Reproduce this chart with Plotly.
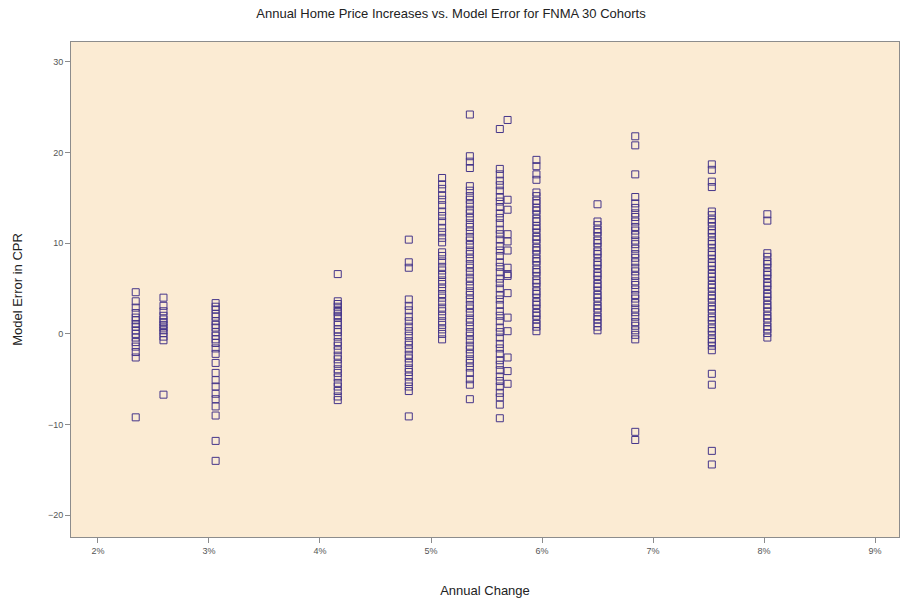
import plotly.graph_objects as go

# Annual change (%) for each cohort column
col_x = [2.34, 2.59, 3.06, 4.16, 4.80, 5.10, 5.35, 5.62, 5.69, 5.95, 6.50, 6.84, 7.53, 8.03]

# Model error (CPR) observed in each column
col_y = [
    [4.6, 3.6, 2.9, 2.3, 1.8, 1.5, 1.1, 0.8, 0.4, 0.0, -0.4, -0.9, -1.4, -2.0, -2.6, -9.2],
    [4.0, 3.1, 2.5, 2.0, 1.6, 1.3, 1.0, 0.7, 0.4, 0.1, -0.3, -0.7, -6.7],
    [3.4, 3.0, 2.7, 2.2, 1.9, 1.4, 1.0, 0.7, 0.2, -0.2, -0.6, -1.0, -1.6, -2.2, -3.2, -4.3,
     -5.1, -5.8, -6.6, -7.2, -8.0, -9.0, -11.8, -14.0],
    [6.6, 3.6, 3.3, 3.0, 2.6, 2.4, 2.0, 1.8, 1.3, 1.0, 0.5, 0.2, -0.3, -0.9, -1.3, -1.8,
     -2.4, -2.8, -3.3, -3.9, -4.3, -4.8, -5.4, -5.8, -6.3, -6.9, -7.3],
    [10.4, 7.9, 7.3, 3.8, 3.1, 2.6, 1.9, 1.4, 0.8, 0.3, -0.2, -0.8, -1.2, -1.7, -2.3, -2.7,
     -3.2, -3.8, -4.2, -4.7, -5.3, -5.8, -6.3, -9.1],
    [17.2, 16.5, 16.0, 15.3, 14.8, 14.2, 13.5, 13.0, 12.4, 11.7, 11.2, 10.6, 10.1, 9.0, 8.6,
     8.0, 7.4, 7.0, 6.5, 5.9, 5.5, 5.0, 4.4, 4.0, 3.5, 2.9, 2.5, 2.0, 1.4, 1.0, 0.5, 0.0, -0.6],
    [24.2, 19.6, 19.0, 18.3, 16.3, 15.8, 15.2, 14.8, 14.3, 13.7, 13.3, 12.8, 12.2, 11.8, 11.3,
     10.7, 10.3, 9.8, 9.2, 8.8, 8.3, 7.7, 7.3, 6.8, 6.2, 5.8, 5.3, 4.7, 4.3, 3.8, 3.2, 2.8,
     2.3, 1.7, 1.3, 0.8, 0.2, -0.2, -0.7, -1.3, -1.7, -2.2, -2.8, -3.2, -3.7, -4.3, -5.0,
     -5.6, -7.2],
    [22.6, 18.2, 17.6, 16.9, 16.4, 15.8, 15.1, 14.6, 14.0, 13.3, 12.8, 12.2, 11.5, 11.0,
     10.4, 9.7, 9.2, 8.6, 7.9, 7.4, 6.8, 6.1, 5.6, 5.0, 4.3, 3.8, 3.2, 2.5, 2.0, 1.4, 0.7,
     0.2, -0.4, -1.1, -1.6, -2.2, -2.9, -3.4, -4.0, -4.7, -5.2, -5.8, -6.5, -7.0, -7.8, -9.3],
    [23.6, 14.8, 13.7, 11.0, 10.2, 9.2, 7.3, 6.6, 6.4, 4.5, 1.8, 0.3, -2.6, -4.1, -5.5],
    [19.2, 18.5, 17.6, 17.0, 15.6, 15.2, 14.7, 14.4, 13.9, 13.6, 13.2, 12.7, 12.4, 11.9,
     11.6, 11.2, 10.7, 10.4, 10.0, 9.5, 9.2, 8.8, 8.3, 8.0, 7.6, 7.1, 6.8, 6.4, 5.9, 5.6,
     5.2, 4.7, 4.4, 4.0, 3.5, 3.2, 2.8, 2.3, 2.0, 1.6, 1.1, 0.8, 0.3],
    [14.3, 12.4, 12.0, 11.5, 11.2, 10.8, 10.3, 10.0, 9.6, 9.1, 8.8, 8.4, 7.9, 7.6, 7.2,
     6.7, 6.4, 6.0, 5.5, 5.2, 4.8, 4.3, 4.0, 3.6, 3.1, 2.8, 2.4, 1.9, 1.6, 1.2, 0.8, 0.4],
    [21.8, 20.8, 17.6, 15.1, 14.4, 13.9, 13.3, 12.9, 12.4, 11.8, 11.4, 10.9, 10.3, 9.9,
     9.4, 8.8, 8.4, 7.9, 7.3, 6.9, 6.4, 5.8, 5.4, 4.9, 4.3, 3.9, 3.4, 2.8, 2.4, 1.9, 1.3,
     0.9, 0.4, -0.1, -0.6, -10.8, -11.7],
    [18.7, 18.1, 16.8, 16.2, 13.5, 13.1, 12.6, 12.3, 11.9, 11.4, 11.1, 10.7, 10.2, 9.9,
     9.5, 9.0, 8.7, 8.3, 7.8, 7.5, 7.1, 6.6, 6.3, 5.9, 5.4, 5.1, 4.7, 4.2, 3.9, 3.5, 3.0,
     2.7, 2.3, 1.8, 1.5, 1.1, 0.6, 0.3, -0.1, -0.6, -0.9, -1.3, -1.8, -4.4, -5.6, -12.9, -14.4],
    [13.2, 12.5, 8.9, 8.5, 8.0, 7.7, 7.3, 6.8, 6.5, 6.1, 5.6, 5.3, 4.9, 4.4, 4.1, 3.7,
     3.2, 2.9, 2.5, 2.0, 1.7, 1.3, 0.8, 0.5, 0.1, -0.4],
]

x_ticks = [2, 3, 4, 5, 6, 7, 8, 9]
x_tick_labels = ["2%", "3%", "4%", "5%", "6%", "7%", "8%", "9%"]
y_ticks = [-20, -10, 0, 10, 20, 30]
y_tick_labels = ["\u221220", "\u221210", "0", "10", "20", "30"]

xs, ys = [], []
for cx, vals in zip(col_x, col_y):
    for v in vals:
        xs.append(cx)
        ys.append(v)

fig = go.Figure()
fig.add_trace(go.Scatter(
    x=xs, y=ys, mode="markers",
    marker=dict(symbol="square-open", size=7, color="#45358a",
                line=dict(width=1, color="#45358a")),
    showlegend=False, hoverinfo="skip",
))

fig.update_layout(
    width=902, height=601,
    margin=dict(l=71, r=3, t=42, b=64),
    paper_bgcolor="white",
    plot_bgcolor="#FBEBD3",
    font=dict(family="Liberation Sans, Arial, sans-serif", color="#222"),
    title=dict(text="Annual Home Price Increases vs. Model Error for FNMA 30 Cohorts",
               x=0.5, xanchor="center", y=0.978, yanchor="middle",
               font=dict(size=13, color="#222")),
)
fig.update_xaxes(
    range=[1.757, 9.216], tickvals=x_ticks, ticktext=x_tick_labels,
    showgrid=False, zeroline=False,
    showline=True, linecolor="#8c8c8c", linewidth=1, mirror=True,
    ticks="outside", ticklen=5, tickcolor="#8c8c8c",
    tickfont=dict(size=9, color="#555"),
    title=dict(text="Annual Change", font=dict(size=13, color="#222"), standoff=31),
)
fig.update_yaxes(
    range=[-22.4, 32.2], tickvals=y_ticks, ticktext=y_tick_labels,
    showgrid=False, zeroline=False,
    showline=True, linecolor="#8c8c8c", linewidth=1, mirror=True,
    ticks="outside", ticklen=5, tickcolor="#8c8c8c",
    tickfont=dict(size=9, color="#555"),
    title=dict(text="Model Error in CPR", font=dict(size=13, color="#222"), standoff=22),
)

fig.write_html("out.html", config={"displayModeBar": False},
               post_script="document.body.style.margin='0';document.body.style.overflow='hidden';")
